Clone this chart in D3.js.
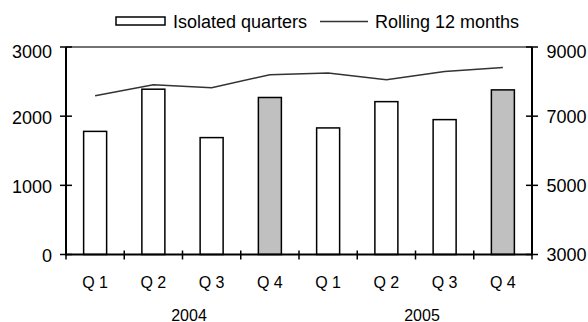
<!DOCTYPE html>
<html><head><meta charset="utf-8">
<script src="https://cdn.jsdelivr.net/npm/d3@7/dist/d3.min.js"></script>
<style>body{margin:0;background:#fff}svg{display:block}text{font-family:"Liberation Sans",Arial,sans-serif;fill:#000}</style>
</head><body><svg id="c" width="588" height="322"></svg>
<script>
const quarters = ["Q 1","Q 2","Q 3","Q 4","Q 1","Q 2","Q 3","Q 4"];
const years = ["2004","2005"];
const isolated = [1780, 2390, 1690, 2270, 1830, 2210, 1950, 2380];
const rolling = [7590, 7910, 7820, 8200, 8250, 8050, 8290, 8410];
const highlighted = [false, false, false, true, false, false, false, true];
const leftTicks = [0, 1000, 2000, 3000];
const rightTicks = [3000, 5000, 7000, 9000];
const legendLabels = ["Isolated quarters", "Rolling 12 months"];

const svg = d3.select("#c");
const L = 66, R = 532, T = 47, B = 254.5;
const x = d3.scaleBand().domain(d3.range(quarters.length)).range([L, R]).padding(0);
const yL = d3.scaleLinear().domain([0, 3000]).range([B, T]);
const yR = d3.scaleLinear().domain([3000, 9000]).range([B, T]);
const bw = 23;

// top frame line
svg.append("line").attr("x1", L).attr("x2", R).attr("y1", T).attr("y2", T)
  .attr("stroke", "#444").attr("stroke-width", 1.5);

// bars
svg.append("g").selectAll("rect").data(isolated).join("rect")
  .attr("x", (d, i) => x(i) + x.bandwidth() / 2 - bw / 2)
  .attr("y", d => yL(d))
  .attr("width", bw)
  .attr("height", d => yL(0) - yL(d))
  .attr("fill", (d, i) => highlighted[i] ? "#c0c0c0" : "#fff")
  .attr("stroke", "#000").attr("stroke-width", 1.5);

// line
svg.append("path").datum(rolling)
  .attr("d", d3.line().x((d, i) => x(i) + x.bandwidth() / 2).y(d => yR(d)))
  .attr("fill", "none").attr("stroke", "#333").attr("stroke-width", 1.5);

// left axis
const gl = svg.append("g");
gl.append("line").attr("x1", L).attr("x2", L).attr("y1", T).attr("y2", B + 1)
  .attr("stroke", "#000").attr("stroke-width", 2);
leftTicks.forEach((t, i) => {
  gl.append("line").attr("x1", L - 6).attr("x2", L + 6).attr("y1", yL(t)).attr("y2", yL(t))
    .attr("stroke", "#000").attr("stroke-width", 1.5);
  const shift = i === leftTicks.length - 1 ? 4.5 : 1;
  gl.append("text").attr("x", 52).attr("y", yL(t) + shift).attr("dy", "0.36em")
    .attr("text-anchor", "end").attr("font-size", "18px").text(t);
});

// right axis
const gr = svg.append("g");
gr.append("line").attr("x1", R).attr("x2", R).attr("y1", T).attr("y2", B + 1)
  .attr("stroke", "#000").attr("stroke-width", 2);
rightTicks.forEach((t, i) => {
  gr.append("line").attr("x1", R - 6).attr("x2", R + 6).attr("y1", yR(t)).attr("y2", yR(t))
    .attr("stroke", "#000").attr("stroke-width", 1.5);
  const shift = i === rightTicks.length - 1 ? 4.5 : 0.5;
  gr.append("text").attr("x", 546.5).attr("y", yR(t) + shift).attr("dy", "0.36em")
    .attr("text-anchor", "start").attr("font-size", "18px").text(t);
});

// bottom axis
const gb = svg.append("g");
gb.append("line").attr("x1", L).attr("x2", R).attr("y1", B).attr("y2", B)
  .attr("stroke", "#000").attr("stroke-width", 2);
d3.range(quarters.length + 1).forEach(i => {
  const xx = L + i * x.step();
  gb.append("line").attr("x1", xx).attr("x2", xx).attr("y1", B - 4).attr("y2", B + 5)
    .attr("stroke", "#000").attr("stroke-width", 1.5);
});
quarters.forEach((q, i) => {
  gb.append("text").attr("x", x(i) + x.bandwidth() / 2).attr("y", 287.5)
    .attr("text-anchor", "middle").attr("font-size", "16px").text(q);
});
years.forEach((yr, j) => {
  const cx = (x(j * 4 + 1) + x(j * 4 + 2)) / 2 + x.bandwidth() / 2;
  gb.append("text").attr("x", cx + 6.5).attr("y", 320.5)
    .attr("text-anchor", "middle").attr("font-size", "16px").text(yr);
});

// legend
const lg = svg.append("g");
lg.append("rect").attr("x", 116).attr("y", 17).attr("width", 49).attr("height", 8)
  .attr("fill", "#fff").attr("stroke", "#000").attr("stroke-width", 1.5);
lg.append("text").attr("x", 173).attr("y", 27.5).attr("font-size", "18px").text(legendLabels[0]);
lg.append("line").attr("x1", 320).attr("x2", 368).attr("y1", 21.5).attr("y2", 21.5)
  .attr("stroke", "#333").attr("stroke-width", 1.5);
lg.append("text").attr("x", 375).attr("y", 27.5).attr("font-size", "18px").text(legendLabels[1]);
</script></body></html>
